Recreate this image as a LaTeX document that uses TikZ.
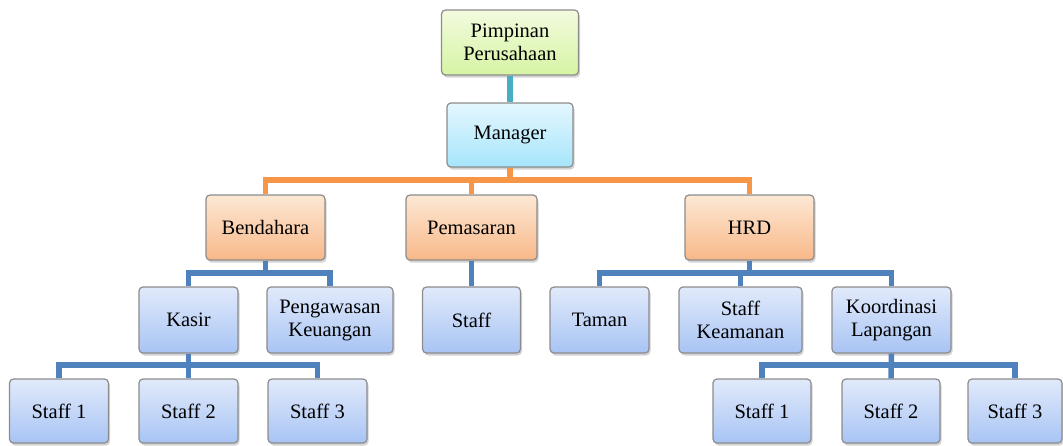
\documentclass[tikz,border=0pt]{standalone}
\usepackage{fontspec}
\setmainfont{Liberation Serif}
\usepackage{tikz}
\usetikzlibrary{shadows}
\definecolor{lnk_t}{HTML}{4BACC6}
\definecolor{lnk_o}{HTML}{F79646}
\definecolor{lnk_b}{HTML}{4F81BD}
\definecolor{rim}{HTML}{8C8C8C}
\tikzset{
  orgnode/.style = {align=center, inner sep=0pt, text centered, rectangle,
    rounded corners=4pt, draw=rim, line width=1.2pt,
    font=\rmfamily\fontsize{20.5}{23}\selectfont,
    drop shadow={opacity=0.35, shadow xshift=1.5pt, shadow yshift=-2.5pt}},
  org_g/.style = {orgnode, top color={rgb,255:red,242;green,251;blue,222},
    bottom color={rgb,255:red,214;green,244;blue,164}},% pimpinan
  org_c/.style = {orgnode, top color={rgb,255:red,228;green,247;blue,254},
    bottom color={rgb,255:red,166;green,229;blue,251}},% manager
  org_o/.style = {orgnode, top color={rgb,255:red,253;green,232;blue,213},
    bottom color={rgb,255:red,248;green,184;blue,136}},% bagian
  org_b/.style = {orgnode, top color={rgb,255:red,225;green,234;blue,251},
    bottom color={rgb,255:red,168;green,196;blue,244}},% staff
  link_t/.style = {draw=lnk_t, line width=5.5pt},
  link_o/.style = {draw=lnk_o, line width=5.5pt},
  link_b/.style = {draw=lnk_b, line width=5.5pt}
}

\begin{document}
\begin{tikzpicture}[x=1pt,y=-1pt]
\useasboundingbox (0,0) rectangle (1063,445);
% puncak
\node[org_g, minimum width=137pt, minimum height=65pt] (pim) at (510,42.5) {Pimpinan\\Perusahaan};
\node[org_c, minimum width=126pt, minimum height=64pt] (mgr) at (510,135) {Manager};
% bagian
\node[org_o, minimum width=119pt, minimum height=65pt] (bend) at (265.5,227.5) {Bendahara};
\node[org_o, minimum width=131pt, minimum height=65pt] (pem) at (471.5,227.5) {Pemasaran};
\node[org_o, minimum width=129pt, minimum height=65pt] (hrd) at (749.5,227.5) {HRD};
% sub bagian
\node[org_b, minimum width=99pt, minimum height=66pt] (kasir) at (188.5,320) {Kasir};
\node[org_b, minimum width=126pt, minimum height=66pt] (pengaw) at (330,320) {Pengawasan\\Keuangan};
\node[org_b, minimum width=98pt, minimum height=66pt] (staff) at (471.5,320) {Staff};
\node[org_b, minimum width=99pt, minimum height=66pt] (taman) at (599.5,320) {Taman};
\node[org_b, minimum width=123pt, minimum height=66pt] (skeam) at (740.5,320) {Staff\\Keamanan};
\node[org_b, minimum width=119pt, minimum height=66pt] (koord) at (891.5,320) {Koordinasi\\Lapangan};
% staff bawah
\node[org_b, minimum width=99pt, minimum height=64pt] (ks_a) at (59,411) {Staff 1};
\node[org_b, minimum width=99pt, minimum height=64pt] (ks_b) at (188.5,411) {Staff 2};
\node[org_b, minimum width=99pt, minimum height=64pt] (ks_c) at (317.5,411) {Staff 3};
\node[org_b, minimum width=98pt, minimum height=64pt] (kl_a) at (762,411) {Staff 1};
\node[org_b, minimum width=98pt, minimum height=64pt] (kl_b) at (891,411) {Staff 2};
\node[org_b, minimum width=94pt, minimum height=64pt] (kl_c) at (1015,411) {Staff 3};
% garis
\coordinate (bar_a) at (510,180);
\coordinate (bar_b) at (265.5,273);
\coordinate (bar_c) at (749.5,273);
\coordinate (bar_d) at (188.5,365);
\coordinate (bar_e) at (891.5,365);
\draw[link_t] (pim.south) -- (mgr.north);
\draw[link_o] (bend.north) |- (bar_a) -| (hrd.north);
\draw[link_o] (mgr.south) -- (bar_a);
\draw[link_o] (pem.north) -- (pem.north |- bar_a);
\draw[link_b] (kasir.north) |- (bar_b) -| (pengaw.north);
\draw[link_b] (bend.south) -- (bar_b);
\draw[link_b] (pem.south) -- (staff.north);
\draw[link_b] (taman.north) |- (bar_c) -| (koord.north);
\draw[link_b] (hrd.south) -- (bar_c);
\draw[link_b] (skeam.north) -- (skeam.north |- bar_c);
\draw[link_b] (ks_a.north) |- (bar_d) -| (ks_c.north);
\draw[link_b] (kasir.south) -- (ks_b.north);
\draw[link_b] (kl_a.north) |- (bar_e) -| (kl_c.north);
\draw[link_b] (koord.south) -- (kl_b.north);
\end{tikzpicture}
\end{document}
